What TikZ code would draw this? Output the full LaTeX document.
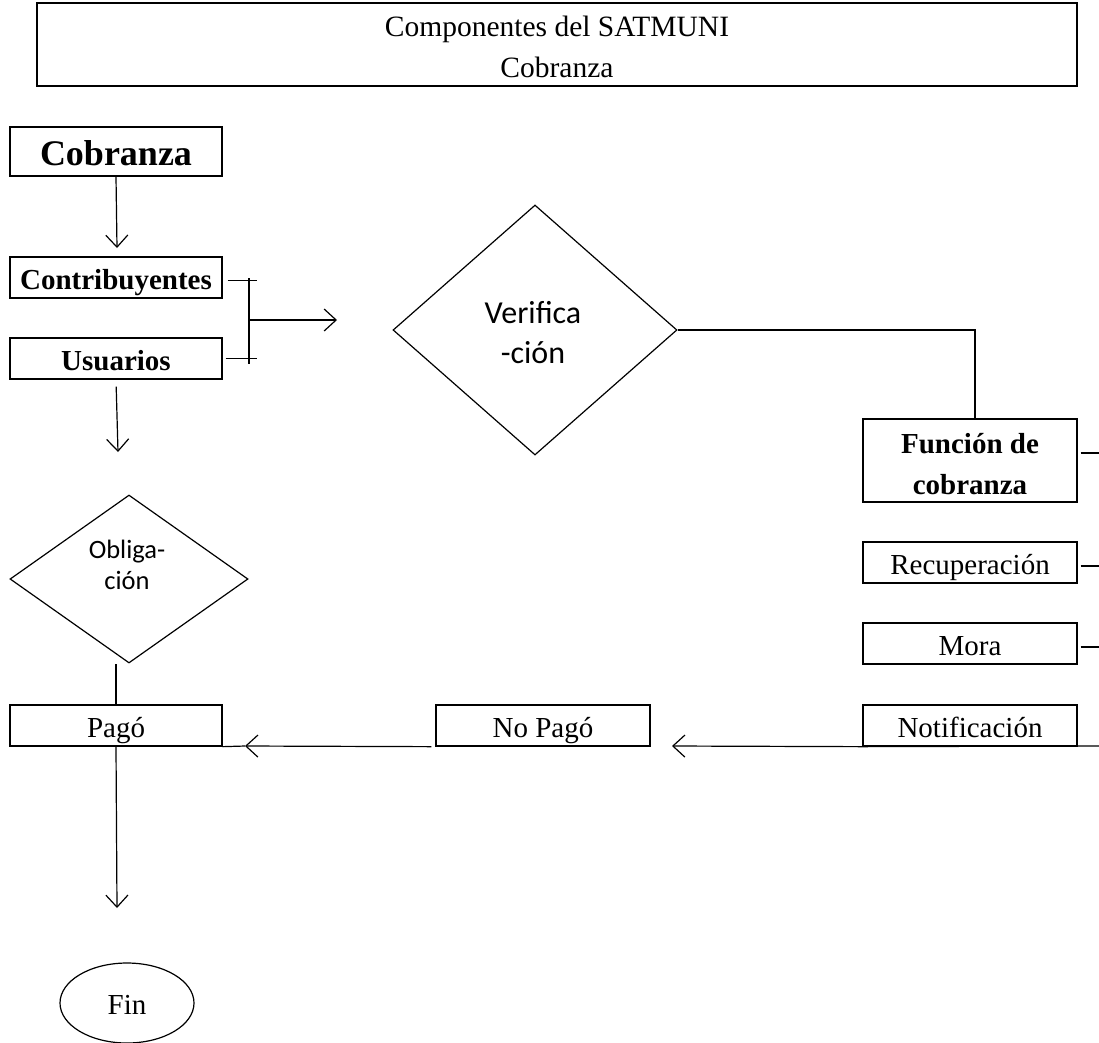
\documentclass[tikz,border=0pt]{standalone}
\usepackage{fontspec}
\setmainfont{Liberation Serif}
\newfontfamily\calibfont{Carlito}
\usetikzlibrary{shapes.geometric,arrows.meta}
\begin{document}
\begin{tikzpicture}[x=1pt,y=-1pt,
  box/.style={draw,line width=1.3pt,inner sep=0pt,align=center},
  one/.style={text height=27pt,text depth=4pt},
  conn/.style={line width=1.2pt},
  arr/.style={conn,-{Straight Barb[length=12pt,width=22pt,line width=1.2pt]}},
  rtxt/.style={font=\fontsize{29}{41}\selectfont},
  btxt/.style={font=\fontsize{29}{41}\selectfont\bfseries},
  dia/.style={draw,line width=1.2pt,shape=diamond,inner sep=0pt},
  stxt/.style={align=center,inner sep=0pt}
]
\useasboundingbox (0,0) rectangle (1099,1042);

% title box
\node[box,minimum width=1040pt,minimum height=83pt] (title) at (557,44.5) {};
\node[stxt,font=\fontsize{29.5}{41}\selectfont] (titletxt) at (557,46.5)
  {Componentes del SATMUNI\\Cobranza};

% left column
\node[box,minimum width=212pt,minimum height=49pt,font=\fontsize{36}{40}\selectfont\bfseries,text height=31pt,text depth=4pt] (cob) at (116,151.5) {Cobranza};
\node[box,btxt,one,minimum width=212pt,minimum height=41pt] (con) at (116,277.5) {Contribuyentes};
\node[box,btxt,one,minimum width=212pt,minimum height=41pt] (usu) at (116,358.5) {Usuarios};
\node[dia,minimum width=238pt,minimum height=168pt] (obl) at (129,579) {};
\node[stxt,font=\calibfont\fontsize{26.5}{31}\selectfont] (obltxt) at (127,564.5) {Obliga-\\ción};
\node[box,rtxt,one,minimum width=212pt,minimum height=41pt] (pag) at (116,725.5) {Pagó};
\node[draw,line width=1.2pt,ellipse,minimum width=134pt,minimum height=80pt,inner sep=0pt,rtxt,one] (fin) at (127,1003) {Fin};

% verification diamond
\node[dia,minimum width=284pt,minimum height=250pt] (ver) at (535,330) {};
\node[stxt,font=\calibfont\fontsize{32}{40}\selectfont] (vertxt) at (533,333) {Verifica\\-ción};

% right column
\node[box,minimum width=214pt,minimum height=83pt] (fun) at (970,460.5) {};
\node[stxt,btxt,align=center] (funtxt) at (970,464) {Función de\\cobranza};
\node[box,rtxt,one,minimum width=214pt,minimum height=41pt] (rec) at (970,562.5) {Recuperación};
\node[box,rtxt,one,minimum width=214pt,minimum height=41pt] (mor) at (970,643.5) {Mora};
\node[box,rtxt,one,minimum width=214pt,minimum height=41pt] (not) at (970,725.5) {Notificación};
\node[box,rtxt,one,minimum width=214pt,minimum height=41pt] (nop) at (543,725.5) {No Pagó};

% free ends
\coordinate (a1) at (117,248);
\coordinate (a2) at (118,452);
\coordinate (a3) at (117,908);
\coordinate (jtop) at (249,278);
\coordinate (jbot) at (249,364);
\coordinate (jmid) at (249,320);
\coordinate (jarr) at (337,320);
\coordinate (eFun) at (1099,453);
\coordinate (eRec) at (1099,566);
\coordinate (eMor) at (1099,647);
\coordinate (eNot) at (1099,746);
\coordinate (tipN) at (672,746);
\coordinate (tipP) at (245,746);

% connectors
\draw[arr] (cob.south) -- (a1);
\draw[conn] ([xshift=5pt,yshift=-3pt]con.east) -- ++(29,0);
\draw[conn] ([xshift=3pt]usu.east) -- ++(31,0);
\draw[conn] (jtop) -- (jbot);
\draw[arr] (jmid) -- (jarr);
\draw[arr,shorten <=7pt] (usu.south) -- (a2);
\draw[conn] (pag.north) -- (pag.north |- obl.south);
\draw[arr] (pag.south) -- (a3);

\draw[conn] (ver.east) -| ([xshift=5pt]fun.north);
\draw[conn] ([xshift=3pt]fun.east |- eFun) -- (eFun);
\draw[conn] ([xshift=3pt]rec.east |- eRec) -- (eRec);
\draw[conn] ([xshift=3pt]mor.east |- eMor) -- (eMor);
\draw[conn] (eNot) -- (not.south west);
\draw[arr] (not.south west) -- (tipN);
\draw[arr] ([xshift=-4pt]nop.south west) -- (tipP);
\draw[conn] (tipP) -- (pag.south east);
\end{tikzpicture}
\end{document}
